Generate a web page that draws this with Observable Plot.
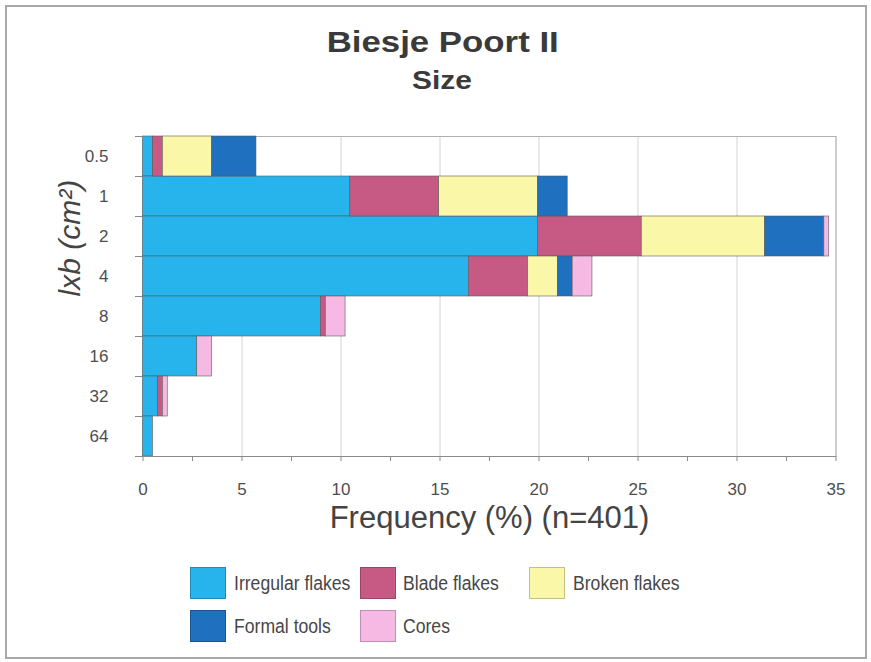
<!DOCTYPE html>
<html>
<head>
<meta charset="utf-8">
<script src="https://cdn.jsdelivr.net/npm/d3@7"></script>
<script src="https://cdn.jsdelivr.net/npm/@observablehq/plot@0.6"></script>
<style>
  body { margin: 0; background: #fff; font-family: "Liberation Sans", Arial, sans-serif; }
  #wrap { position: relative; width: 871px; height: 662px; overflow: hidden; background: #fff; }
  #border { position: absolute; left: 5px; top: 5px; width: 858px; height: 650px; border: 2px solid #a9a9a9; pointer-events: none; box-sizing: content-box; }
  #head { position: relative; height: 106px; }
  .t { position: absolute; left: 7px; width: 871px; text-align: center; line-height: 1; font-weight: bold; color: #3a3a3a; white-space: nowrap; }
  .t span { display: inline-block; }
  #chart svg { display: block; }
  #legend { position: relative; height: 117px; }
  .sw { position: absolute; width: 36px; height: 32px; box-sizing: border-box; border: 1px solid rgba(0,0,0,0.22); }
  .lt { position: absolute; font-size: 20px; line-height: 1; color: #474747; transform: scaleX(0.88); transform-origin: left center; white-space: nowrap; }
</style>
</head>
<body>
<div id="wrap">
  <div id="head">
    <div class="t" style="top:28px;font-size:29px;"><span style="transform:scaleX(1.2)">Biesje Poort II</span></div>
    <div class="t" style="top:67px;font-size:26px;"><span style="transform:scaleX(1.15)">Size</span></div>
  </div>
  <div id="chart"></div>
  <div id="legend"></div>
  <div id="border"></div>
</div>
<script>
// Size classes (l x b, cm²)
const sizes = ["0.5", "1", "2", "4", "8", "16", "32", "64"];
// Series (frequency %, n=401)
const types = ["Irregular flakes", "Blade flakes", "Broken flakes", "Formal tools", "Cores"];
const colors = ["#27b4ec", "#c65a85", "#fbf7a8", "#1f70be", "#f5b9e3"];
const irregular = [0.50, 10.47, 19.95, 16.46, 8.98, 2.74, 0.75, 0.50];
const blade     = [0.50, 4.49, 5.24, 2.99, 0.25, 0, 0.25, 0];
const broken    = [2.49, 4.99, 6.23, 1.50, 0, 0, 0, 0];
const formal    = [2.24, 1.50, 2.99, 0.75, 0, 0, 0, 0];
const cores     = [0, 0, 0.25, 1.00, 1.00, 0.75, 0.25, 0];
// Axis ticks
const xTicks = [0, 5, 10, 15, 20, 25, 30, 35];
const xMinorTicks = [0, 2.5, 5, 7.5, 10, 12.5, 15, 17.5, 20, 22.5, 25, 27.5, 30, 32.5, 35];
const xTitle = "Frequency (%) (n=401)";
const yTitle = "lxb (cm²)";

const series = [irregular, blade, broken, formal, cores];
const data = types.flatMap((t, i) => sizes.map((s, j) => ({size: s, type: t, value: series[i][j]})))
  .filter(d => d.value > 0);

const chart = Plot.plot({
  width: 871,
  height: 439,
  marginTop: 30,
  marginBottom: 89,
  marginLeft: 142.5,
  marginRight: 35.5,
  style: {fontFamily: "'Liberation Sans', Arial, sans-serif", fontSize: "17px", color: "#4e4e4e", background: "transparent", overflow: "visible"},
  x: {domain: [0, 35]},
  y: {domain: sizes, padding: 0},
  color: {domain: types, range: colors},
  marks: [
    Plot.gridX(xTicks.filter(d => d > 0), {stroke: "#d4d4d4", strokeOpacity: 1}),
    Plot.frame({stroke: "#b0b0b0"}),
    Plot.barX(data, {x: "value", y: "size", fill: "type", stroke: "#5a5a5a", strokeWidth: 0.6}),
    Plot.ruleY([sizes[sizes.length - 1]], {y: d => d, x1: 0, x2: 35, dy: 20, stroke: "#8a8a8a"}),
    Plot.ruleY(sizes, {y: d => d, x1: -0.38, x2: 0, dy: -20, stroke: "#8a8a8a"}),
    Plot.ruleY([sizes[sizes.length - 1]], {y: d => d, x1: -0.38, x2: 0, dy: 20, stroke: "#8a8a8a"}),
    Plot.axisX(xMinorTicks, {tickSize: 5, text: null, stroke: "#8a8a8a", label: null}),
    Plot.axisX(xTicks, {tickSize: 0, tickPadding: 26, fontSize: 17, label: null}),
    Plot.axisY({tickSize: 0, tickPadding: 34.5, fontSize: 17, label: null}),
    Plot.text([yTitle], {text: d => d, frameAnchor: "left", dx: -73, rotate: -90, fontSize: 30, fontStyle: "italic", fill: "#444"}),
    Plot.text([xTitle], {text: d => d, frameAnchor: "bottom", dy: 62, lineAnchor: "middle", fontSize: 31, fill: "#444"})
  ]
});
document.getElementById("chart").appendChild(chart);

// Legend (HTML, below the SVG)
const legendPos = [
  {sx: 190, sy: 22, tx: 234},
  {sx: 360, sy: 22, tx: 403},
  {sx: 529, sy: 22, tx: 573},
  {sx: 190, sy: 65, tx: 234},
  {sx: 360, sy: 65, tx: 403}
];
const legend = document.getElementById("legend");
types.forEach((t, i) => {
  const p = legendPos[i];
  const sw = document.createElement("div");
  sw.className = "sw";
  sw.style.left = p.sx + "px";
  sw.style.top = p.sy + "px";
  sw.style.background = colors[i];
  legend.appendChild(sw);
  const lt = document.createElement("div");
  lt.className = "lt";
  lt.style.left = p.tx + "px";
  lt.style.top = (p.sy + 16 - 0.49 * 20) + "px";
  lt.textContent = t;
  legend.appendChild(lt);
});
</script>
</body>
</html>
